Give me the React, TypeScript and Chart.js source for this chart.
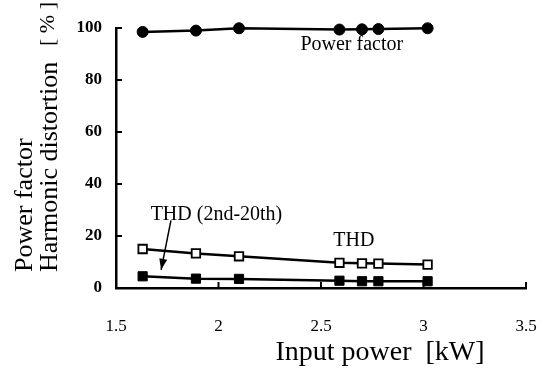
import React, { useEffect, useRef } from "react";
import { Chart, registerables } from "chart.js";

Chart.register(...registerables);

const inputPower = [1.63, 1.89, 2.1, 2.59, 2.7, 2.78, 3.02];
const powerFactor = [98.5, 99.0, 99.9, 99.4, 99.5, 99.6, 99.9];
const thd = [15.0, 13.3, 12.2, 9.7, 9.5, 9.4, 9.0];
const thd2to20 = [4.5, 3.6, 3.5, 2.8, 2.6, 2.6, 2.6];
const xTicks = [1.5, 2, 2.5, 3, 3.5];
const yTicks = [0, 20, 40, 60, 80, 100];

const SERIF = "'Liberation Serif', 'Times New Roman', serif";

const pts = (ys: number[]) => inputPower.map((x, i) => ({ x, y: ys[i] }));

const zeroPad = (s: any) => {
  s.paddingLeft = 0;
  s.paddingRight = 0;
  s.paddingTop = 0;
  s.paddingBottom = 0;
};

const decorPlugin = {
  id: "decor",
  afterDraw(chart: any) {
    const ctx = chart.ctx as CanvasRenderingContext2D;
    const xs = chart.scales.x;
    const ys = chart.scales.y;
    const area = chart.chartArea;
    ctx.save();
    ctx.strokeStyle = "#000";
    ctx.fillStyle = "#000";
    // inward ticks
    ctx.lineWidth = 2;
    xTicks.forEach((v) => {
      const px = xs.getPixelForValue(v);
      ctx.beginPath();
      ctx.moveTo(px, area.bottom);
      ctx.lineTo(px, area.bottom - 6);
      ctx.stroke();
    });
    yTicks.forEach((v) => {
      const py = ys.getPixelForValue(v);
      ctx.beginPath();
      ctx.moveTo(area.left, py);
      ctx.lineTo(area.left + 6, py);
      ctx.stroke();
    });
    // annotations
    ctx.font = `20px ${SERIF}`;
    ctx.textAlign = "center";
    ctx.textBaseline = "middle";
    ctx.fillText("Power factor", xs.getPixelForValue(2.65), ys.getPixelForValue(93.5));
    ctx.fillText("THD (2nd-20th)", xs.getPixelForValue(1.99), ys.getPixelForValue(28));
    ctx.fillText("THD", xs.getPixelForValue(2.66), ys.getPixelForValue(18));
    // arrow
    const ax0 = xs.getPixelForValue(1.768), ay0 = ys.getPixelForValue(26);
    const ax1 = xs.getPixelForValue(1.72), ay1 = ys.getPixelForValue(7);
    ctx.lineWidth = 1.5;
    ctx.beginPath();
    ctx.moveTo(ax0, ay0);
    ctx.lineTo(ax1, ay1);
    ctx.stroke();
    const ang = Math.atan2(ay1 - ay0, ax1 - ax0);
    const hl = 11, hw = 4;
    ctx.beginPath();
    ctx.moveTo(ax1, ay1);
    ctx.lineTo(ax1 - hl * Math.cos(ang) + hw * Math.sin(ang), ay1 - hl * Math.sin(ang) - hw * Math.cos(ang));
    ctx.lineTo(ax1 - hl * Math.cos(ang) - hw * Math.sin(ang), ay1 - hl * Math.sin(ang) + hw * Math.cos(ang));
    ctx.closePath();
    ctx.fill();
    // axis titles
    ctx.font = `28px ${SERIF}`;
    ctx.textAlign = "center";
    ctx.textBaseline = "middle";
    ctx.fillText("Input power  [kW]", 380, 353);
    ctx.font = `26px ${SERIF}`;
    ctx.save();
    ctx.translate(25, 272);
    ctx.rotate(-Math.PI / 2);
    ctx.textAlign = "left";
    ctx.fillText("Power factor", 0, 0);
    ctx.restore();
    ctx.save();
    ctx.translate(50, 272);
    ctx.rotate(-Math.PI / 2);
    ctx.textAlign = "left";
    ctx.fillText("Harmonic distortion", 0, 0);
    ctx.restore();
    ctx.save();
    ctx.translate(48, 24);
    ctx.rotate(-Math.PI / 2);
    ctx.font = `22px ${SERIF}`;
    ctx.textAlign = "center";
    ctx.fillText("[ % ]", 0, 0);
    ctx.restore();
    ctx.restore();
  },
};

export default function App() {
  const ref = useRef<HTMLCanvasElement | null>(null);
  useEffect(() => {
    if (!ref.current) return;
    const chart = new Chart(ref.current, {
      type: "scatter",
      data: {
        datasets: [
          {
            label: "Power factor",
            data: pts(powerFactor),
            showLine: true,
            borderColor: "#000",
            backgroundColor: "#000",
            borderWidth: 2.5,
            pointStyle: "circle",
            pointRadius: 5.5,
            pointBorderWidth: 1,
            clip: false,
          },
          {
            label: "THD",
            data: pts(thd),
            showLine: true,
            borderColor: "#000",
            backgroundColor: "#fff",
            borderWidth: 2.5,
            pointStyle: "rect",
            pointRadius: 6,
            pointBorderWidth: 1.8,
            clip: false,
          },
          {
            label: "THD (2nd-20th)",
            data: pts(thd2to20),
            showLine: true,
            borderColor: "#000",
            backgroundColor: "#000",
            borderWidth: 2.5,
            pointStyle: "rect",
            pointRadius: 6.5,
            pointBorderWidth: 1,
            clip: false,
          },
        ],
      },
      options: {
        animation: false,
        responsive: false,
        events: [],
        layout: { padding: { left: 0, right: 17, top: 28, bottom: 0 } },
        plugins: { legend: { display: false }, tooltip: { enabled: false } },
        scales: {
          x: {
            type: "linear",
            min: 1.5,
            max: 3.5,
            afterFit: (s: any) => { s.height = 83; zeroPad(s); },
            afterBuildTicks: (s: any) => { s.ticks = xTicks.map((v) => ({ value: v })); },
            grid: { display: false, drawTicks: false },
            border: { display: true, color: "#000", width: 2.5 },
            ticks: {
              padding: 28,
              color: "#000",
              font: { family: SERIF, size: 17 },
              callback: (v: any) => String(v),
            },
          },
          y: {
            type: "linear",
            min: 0,
            max: 100,
            afterFit: (s: any) => { s.width = 116; zeroPad(s); },
            afterBuildTicks: (s: any) => { s.ticks = yTicks.map((v) => ({ value: v })); },
            grid: { display: false, drawTicks: false },
            border: { display: true, color: "#000", width: 2.5 },
            ticks: {
              padding: 14,
              color: "#000",
              font: { family: SERIF, size: 17, weight: "bold" },
              callback: (v: any) => String(v),
            },
          },
        },
      },
      plugins: [decorPlugin],
    });
    return () => chart.destroy();
  }, []);
  return (
    <div style={{ position: "absolute", left: 0, top: 0, width: 543, height: 371 }}>
      <canvas ref={ref} width={543} height={371} style={{ display: "block" }} />
    </div>
  );
}
